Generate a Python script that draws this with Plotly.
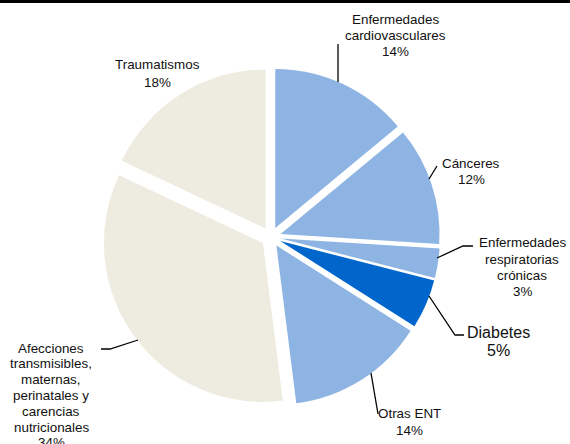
import plotly.graph_objects as go

# ---- data ----
categories = [
    "Enfermedades cardiovasculares",
    "Cánceres",
    "Enfermedades respiratorias crónicas",
    "Diabetes",
    "Otras ENT",
    "Afecciones transmisibles, maternas, perinatales y carencias nutricionales",
    "Traumatismos",
]
values = [14, 12, 3, 5, 14, 34, 18]
pct_labels = ["14%", "12%", "3%", "5%", "14%", "34%", "18%"]
label_lines = [
    ["Enfermedades", "cardiovasculares"],
    ["Cánceres"],
    ["Enfermedades", "respiratorias", "crónicas"],
    ["Diabetes"],
    ["Otras ENT"],
    ["Afecciones", "transmisibles,", "maternas,", "perinatales y", "carencias", "nutricionales"],
    ["Traumatismos"],
]

# ---- styles / layout ----
W, H = 570, 444
LIGHT, DARK, BEIGE = "#8EB4E3", "#0066CC", "#EEECE1"
colors = [LIGHT, LIGHT, LIGHT, DARK, LIGHT, BEIGE, BEIGE]
font_sizes = [13.4, 13.4, 13.4, 16, 13.4, 13.4, 13.4]
line_gaps = [15.8, 16.5, 16.3, 18.5, 17, 15.8, 17]
# (center x px, first line y px) for each label block
label_pos = [(395, 20), (471, 163), (522, 243), (499, 332), (409, 413), (51, 348), (157, 65)]
# leader line polylines in px
leaders = [
    [(338, 44), (338, 82)],
    [(437, 166), (429, 179)],
    [(473, 246), (463, 246), (437, 258)],
    [(464, 335), (455, 335), (429, 296)],
    [(378, 414), (371, 373)],
    [(101, 349), (110, 349), (138, 340)],
]

def px(x, y):
    return x / W, 1 - y / H

cx, cy, box = 271, 237, 338
fig = go.Figure(
    go.Pie(
        values=values,
        labels=categories,
        sort=False,
        direction="clockwise",
        rotation=0,
        pull=0.063,
        marker=dict(colors=colors, line=dict(width=0)),
        textinfo="none",
        hoverinfo="label+percent",
        showlegend=False,
        domain=dict(
            x=[(cx - box / 2) / W, (cx + box / 2) / W],
            y=[1 - (cy + box / 2) / H, 1 - (cy - box / 2) / H],
        ),
    )
)

annotations = []
for lines, pct, (x0, y0), fs, gap in zip(label_lines, pct_labels, label_pos, font_sizes, line_gaps):
    for i, t in enumerate(lines + [pct]):
        ax, ay = px(x0, y0 + i * gap)
        annotations.append(dict(
            x=ax, y=ay, xref="paper", yref="paper", text=t, showarrow=False,
            xanchor="center", yanchor="middle",
            font=dict(family="Liberation Sans, Arial, sans-serif", size=fs, color="#111111"),
        ))

shapes = []
for pts in leaders:
    path = "M " + " L ".join("{:.5f},{:.5f}".format(*px(x, y)) for x, y in pts)
    shapes.append(dict(type="path", path=path, xref="paper", yref="paper",
                       line=dict(color="black", width=1.3)))
shapes.append(dict(type="rect", xref="paper", yref="paper", x0=0, x1=1,
                   y0=1 - 3 / H, y1=1, fillcolor="black", line=dict(width=0)))

fig.update_layout(
    width=W, height=H,
    margin=dict(l=0, r=0, t=0, b=0),
    paper_bgcolor="white",
    plot_bgcolor="white",
    annotations=annotations,
    shapes=shapes,
)

fig.write_html(
    "out.html",
    config={"displayModeBar": False},
    post_script="document.body.style.margin='0';document.body.style.overflow='hidden';",
)
